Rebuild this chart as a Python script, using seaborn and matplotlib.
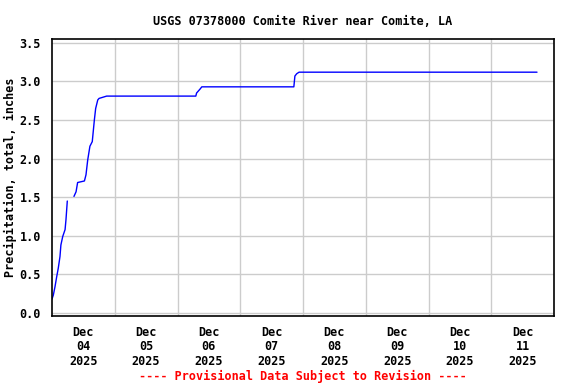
import pandas as pd
import seaborn as sns
import matplotlib.pyplot as plt

sns.set_theme(style="whitegrid")
plt.rcParams["font.family"] = ["DejaVu Sans Mono"]
plt.rcParams["font.weight"] = "bold"
plt.rcParams["text.color"] = "black"
plt.rcParams["xtick.color"] = "black"
plt.rcParams["ytick.color"] = "black"
plt.rcParams["axes.labelcolor"] = "black"

# hours after 2025-12-04 00:00 and cumulative precipitation (inches)
# two segments, there is a gap in the record on the morning of Dec 04
hours_a = [0.0, 0.5, 1.15, 1.8, 2.4, 3.05, 3.4, 4.1, 5.0, 5.35, 5.85]
precip_a = [0.18, 0.23, 0.34, 0.47, 0.58, 0.73, 0.88, 0.99, 1.08, 1.21, 1.45]
hours_b = [8.4, 9.2, 9.8, 12.4, 13.0, 13.65, 14.5, 15.4, 16.2, 16.7, 17.5, 18.0,
           20.9, 24.7, 55.0, 55.3, 56.6, 57.3, 92.5, 92.9, 93.6, 94.5, 185.5]
precip_b = [1.51, 1.57, 1.69, 1.71, 1.79, 1.98, 2.16, 2.22, 2.50, 2.65, 2.76, 2.78,
            2.81, 2.81, 2.81, 2.85, 2.90, 2.93, 2.93, 3.07, 3.10, 3.12, 3.12]

day_labels = ["Dec\n04\n2025", "Dec\n05\n2025", "Dec\n06\n2025", "Dec\n07\n2025",
              "Dec\n08\n2025", "Dec\n09\n2025", "Dec\n10\n2025", "Dec\n11\n2025"]
y_ticks = [0.0, 0.5, 1.0, 1.5, 2.0, 2.5, 3.0, 3.5]

start = pd.Timestamp("2025-12-04 00:00")
seg_a = pd.DataFrame({"time": start + pd.to_timedelta(hours_a, unit="h"), "precip": precip_a})
seg_b = pd.DataFrame({"time": start + pd.to_timedelta(hours_b, unit="h"), "precip": precip_b})

fig, ax = plt.subplots(figsize=(5.76, 3.84), dpi=100)
fig.subplots_adjust(left=52/576, right=554/576, top=1-39/384, bottom=1-316/384)

for seg in (seg_a, seg_b):
    sns.lineplot(x="time", y="precip", data=seg, color="#0000ff", linewidth=1.0, ax=ax)

ax.set_xlim(start, start + pd.Timedelta(days=8))
ax.set_ylim(-0.04, 3.55)

# gridlines at midnight, labels at noon
midnights = [start + pd.Timedelta(days=i) for i in range(1, 8)]
noons = [start + pd.Timedelta(hours=12 + 24 * i) for i in range(8)]
ax.set_xticks(midnights)
ax.set_xticklabels([])
ax.set_xticks(noons, minor=True)
ax.set_xticklabels(day_labels, minor=True, fontsize=8.5, fontweight="bold", linespacing=1.15)
ax.tick_params(axis="x", which="both", length=0, pad=7)
ax.set_yticks(y_ticks)
ax.set_yticklabels([f"{v:.1f}" for v in y_ticks], fontsize=8.5, fontweight="bold")
ax.tick_params(axis="y", length=0, pad=8)

ax.grid(True, which="major", color="#cccccc", linewidth=1.0)
ax.set_facecolor("white")
for sp in ax.spines.values():
    sp.set_color("black")
    sp.set_linewidth(1.2)

ax.set_xlabel("")
ax.set_ylabel("Precipitation, total, inches", fontsize=8.5, fontweight="bold")
ax.yaxis.set_label_coords(-35/502, 0.5)
ax.set_title("USGS 07378000 Comite River near Comite, LA", fontsize=8.5, fontweight="bold", pad=10)
fig.text(303/576, 1-376/384, "---- Provisional Data Subject to Revision ----",
         color="#ff0000", fontsize=8.5, fontweight="bold", ha="center", va="center")

plt.savefig("out.png", dpi=100)
